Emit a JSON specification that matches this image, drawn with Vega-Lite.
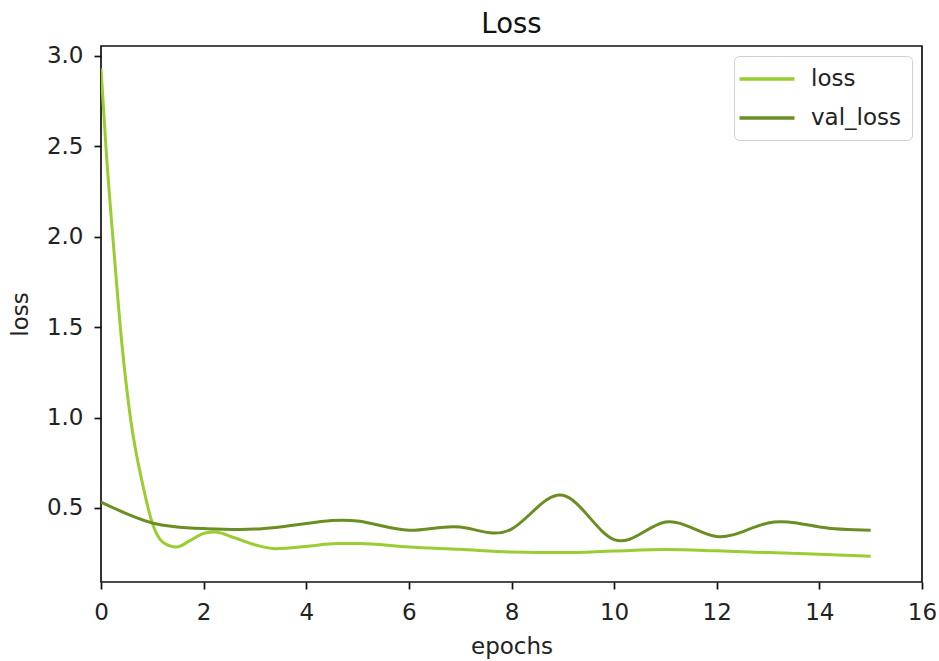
{
  "$schema": "https://vega.github.io/schema/vega-lite/v6.json",
  "width": 821,
  "height": 536,
  "autosize": {"type": "none"},
  "padding": {"left": 101, "top": 46, "right": 17, "bottom": 79},
  "background": "white",
  "title": {"text": "Loss", "fontSize": 27.5, "font": "DejaVu Sans", "fontWeight": "normal", "color": "#111", "offset": 6, "anchor": "middle"},
  "config": {
    "view": {"stroke": "#111", "strokeWidth": 1.7},
    "axis": {
      "domain": false, "grid": false,
      "tickColor": "#111", "tickSize": 7, "tickWidth": 1.7,
      "labelFont": "DejaVu Sans", "labelFontSize": 23, "labelColor": "#222",
      "titleFont": "DejaVu Sans", "titleFontSize": 23, "titleFontWeight": "normal", "titleColor": "#222"
    },
    "legend": {
      "labelFont": "DejaVu Sans", "labelFontSize": 23, "labelColor": "#222"
    }
  },
  "data": {"values": [
    {"epoch": 0, "series": "loss", "value": 2.93},
    {"epoch": 0.1, "series": "loss", "value": 2.48},
    {"epoch": 0.25, "series": "loss", "value": 1.93},
    {"epoch": 0.41, "series": "loss", "value": 1.4},
    {"epoch": 0.58, "series": "loss", "value": 0.985},
    {"epoch": 0.82, "series": "loss", "value": 0.62},
    {"epoch": 1.0, "series": "loss", "value": 0.417},
    {"epoch": 1.2, "series": "loss", "value": 0.312},
    {"epoch": 1.47, "series": "loss", "value": 0.284},
    {"epoch": 1.75, "series": "loss", "value": 0.322},
    {"epoch": 2.03, "series": "loss", "value": 0.362},
    {"epoch": 2.22, "series": "loss", "value": 0.367},
    {"epoch": 2.6, "series": "loss", "value": 0.335},
    {"epoch": 3.03, "series": "loss", "value": 0.294},
    {"epoch": 3.39, "series": "loss", "value": 0.275},
    {"epoch": 4.04, "series": "loss", "value": 0.288},
    {"epoch": 4.6, "series": "loss", "value": 0.303},
    {"epoch": 5.02, "series": "loss", "value": 0.303},
    {"epoch": 6, "series": "loss", "value": 0.284},
    {"epoch": 7, "series": "loss", "value": 0.271},
    {"epoch": 8, "series": "loss", "value": 0.256},
    {"epoch": 9, "series": "loss", "value": 0.253},
    {"epoch": 10, "series": "loss", "value": 0.262},
    {"epoch": 11, "series": "loss", "value": 0.27},
    {"epoch": 12, "series": "loss", "value": 0.263},
    {"epoch": 13, "series": "loss", "value": 0.253},
    {"epoch": 14, "series": "loss", "value": 0.244},
    {"epoch": 15, "series": "loss", "value": 0.233},
    {"epoch": 0, "series": "val_loss", "value": 0.533},
    {"epoch": 1, "series": "val_loss", "value": 0.417},
    {"epoch": 2, "series": "val_loss", "value": 0.386},
    {"epoch": 3, "series": "val_loss", "value": 0.383},
    {"epoch": 4, "series": "val_loss", "value": 0.414},
    {"epoch": 5, "series": "val_loss", "value": 0.428},
    {"epoch": 6, "series": "val_loss", "value": 0.377},
    {"epoch": 7, "series": "val_loss", "value": 0.395},
    {"epoch": 8, "series": "val_loss", "value": 0.383},
    {"epoch": 9, "series": "val_loss", "value": 0.57},
    {"epoch": 10, "series": "val_loss", "value": 0.325},
    {"epoch": 11, "series": "val_loss", "value": 0.422},
    {"epoch": 12, "series": "val_loss", "value": 0.342},
    {"epoch": 13, "series": "val_loss", "value": 0.417},
    {"epoch": 14, "series": "val_loss", "value": 0.395},
    {"epoch": 15, "series": "val_loss", "value": 0.377}
  ]},
  "encoding": {
    "x": {
      "field": "epoch", "type": "quantitative",
      "scale": {"domain": [0, 16], "nice": false},
      "axis": {"title": "epochs", "values": [0, 2, 4, 6, 8, 10, 12, 14, 16], "labelPadding": 12, "titlePadding": 11, "labelFlush": false}
    },
    "y": {
      "field": "value", "type": "quantitative",
      "scale": {"domain": [0.0905, 3.055], "nice": false, "zero": false},
      "axis": {"title": "loss", "values": [0.5, 1, 1.5, 2, 2.5, 3], "format": ".1f", "labelPadding": 11, "titlePadding": 14}
    },
    "color": {
      "field": "series", "type": "nominal",
      "scale": {"domain": ["loss", "val_loss"], "range": ["#9acd32", "#6b8e23"]},
      "legend": {
        "title": null, "orient": "top-right", "offset": 10,
        "symbolType": "M-2.5,0H2.5", "symbolSize": 484, "symbolStrokeWidth": 3.5, "symbolOffset": 10,
        "labelOffset": 31, "padding": 10, "rowPadding": 14,
        "strokeColor": "#d0d0d0", "fillColor": "white", "cornerRadius": 5
      }
    }
  },
  "layer": [
    {
      "transform": [{"filter": "datum.series === 'loss'"}],
      "mark": {"type": "line", "interpolate": "monotone", "strokeWidth": 3, "clip": true}
    },
    {
      "transform": [{"filter": "datum.series === 'val_loss'"}],
      "mark": {"type": "line", "interpolate": "natural", "strokeWidth": 3, "clip": true}
    }
  ]
}
